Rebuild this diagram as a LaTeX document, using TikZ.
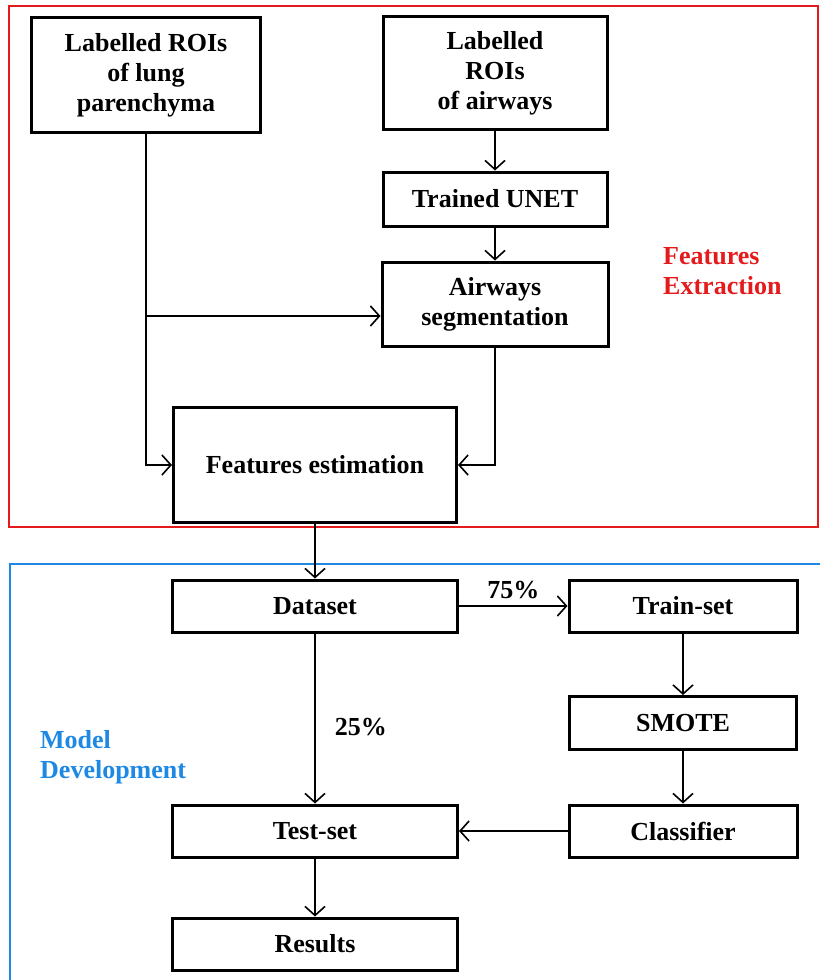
\documentclass[tikz,border=0pt]{standalone}
\usepackage{fontspec}
\setmainfont{Liberation Serif}
\usetikzlibrary{arrows.meta}

\begin{document}
\begin{tikzpicture}[x=1pt, y=-1pt,
    box/.style={draw, line width=3pt, align=center, inner sep=0pt,
      font=\fontsize{26}{30}\selectfont\bfseries},
    link/.style={line width=1.6pt, -{Straight Barb[length=9pt, width=20pt, line width=1.6pt]}},
    pct/.style={font=\fontsize{26}{30}\selectfont\bfseries, inner sep=0pt}]
    \definecolor{my-red}{RGB}{228,26,28}
    \definecolor{my-blue}{RGB}{30,136,229}
    \clip (0,0) rectangle (820,980);
    % frames
    \draw[my-red, line width=2pt] (9,6) rectangle (818,527);
    \draw[my-blue, line width=2pt] (10,564) rectangle (840,1000);
    \node[anchor=west, align=left, text=my-red, pct] (fe) at (663,271) {Features\\Extraction};
    \node[anchor=west, align=left, text=my-blue, pct] (md) at (40,757) {Model\\Development};
    % feature extraction
    \node[box, minimum width=229, minimum height=115] (lung) at (146,75) {Labelled ROIs\\of lung\\parenchyma};
    \node[box, minimum width=224, minimum height=113] (roiair) at (495,73) {Labelled\\ROIs\\of airways};
    \node[box, minimum width=224, minimum height=54] (unet) at (495,199) {Trained UNET};
    \node[box, minimum width=226, minimum height=84] (seg) at (495,304) {Airways\\segmentation};
    \node[box, minimum width=283, minimum height=115] (feat) at (315,465) {Features estimation};
    % model development
    \node[box, minimum width=285, minimum height=52] (data) at (315,606) {Dataset};
    \node[box, minimum width=228, minimum height=52] (train) at (683,606) {Train-set};
    \node[box, minimum width=227, minimum height=53] (smote) at (683,723) {SMOTE};
    \node[box, minimum width=285, minimum height=52] (test) at (315,831) {Test-set};
    \node[box, minimum width=228, minimum height=52] (clf) at (683,831) {Classifier};
    \node[box, minimum width=285, minimum height=52] (res) at (315,944) {Results};
    % connectors
    \coordinate (split) at (146,316);
    \draw[link] (lung.south) |- (feat.west);
    \draw[link] (split) -- (split -| seg.west);
    \draw[link] (roiair) -- (unet);
    \draw[link] (unet) -- (seg);
    \draw[link] (seg.south) |- (feat.east);
    \draw[link] (feat) -- (data);
    \draw[link] (data) -- node[pct, midway, above=6pt] {75\%} (train);
    \draw[link] (data) -- node[pct, pos=0.55, right=19pt] {25\%} (test);
    \draw[link] (train) -- (smote);
    \draw[link] (smote) -- (clf);
    \draw[link] (clf) -- (test);
    \draw[link] (test) -- (res);
\end{tikzpicture}
\end{document}
